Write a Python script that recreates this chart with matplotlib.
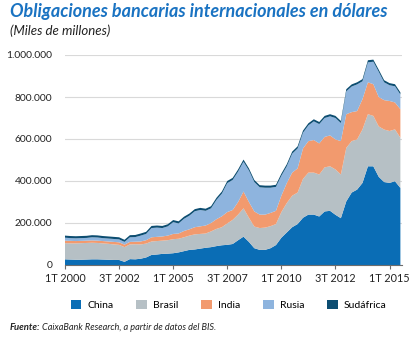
import matplotlib.pyplot as plt
from matplotlib.patches import Patch
from matplotlib.ticker import FuncFormatter

plt.rcParams['font.family'] = ['Lato', 'DejaVu Sans']

# quarters from 1T 2000 to 3T 2015, values in miles de millones (thousands)
quarters = list(range(63))
tick_pos = [0, 10, 20, 30, 40, 50, 60]
tick_labels = ['1T 2000', '3T 2002', '1T 2005', '3T 2007', '1T 2010', '3T 2012', '1T 2015']

# cumulative tops
top_china = [27, 26, 25, 25, 26, 27, 27, 26, 25, 24, 24, 15, 28, 27, 30, 36, 48, 50, 53, 54,
             56, 60, 66, 72, 74, 78, 82, 85, 90, 94, 96, 100, 118, 135, 110, 80, 72, 72, 80, 95,
             130, 155, 180, 195, 225, 240, 240, 231, 255, 258, 239, 223, 303, 345, 359, 391, 470, 470, 420, 395,
             391, 399, 367]
top_brasil = [104, 103, 103, 104, 105, 106, 105, 103, 101, 98, 96, 85, 98, 99, 98, 102, 112, 114, 116, 118,
              123, 125, 132, 140, 146, 148, 150, 160, 172, 180, 198, 215, 240, 270, 225, 183, 176, 178, 185, 195,
              252, 295, 330, 345, 410, 440, 440, 431, 465, 470, 455, 431, 558, 590, 598, 646, 718, 710, 660, 645,
              638, 646, 606]
top_india = [116, 115, 114, 115, 116, 117, 116, 114, 112, 110, 108, 97, 110, 111, 112, 118, 132, 134, 136, 140,
             148, 150, 162, 170, 180, 184, 188, 200, 218, 232, 252, 262, 300, 350, 300, 255, 240, 240, 248, 258,
             330, 390, 440, 460, 555, 590, 595, 579, 610, 617, 598, 590, 718, 728, 733, 790, 870, 861, 800, 785,
             781, 774, 742]
total = [140, 138, 137, 138, 139, 142, 141, 138, 136, 134, 132, 120, 142, 143, 150, 158, 186, 188, 186, 194,
         214, 208, 230, 245, 266, 272, 268, 280, 320, 350, 400, 415, 455, 502, 460, 405, 380, 378, 378, 382,
         435, 480, 540, 565, 640, 675, 694, 681, 710, 718, 710, 686, 837, 860, 870, 885, 975, 978, 930, 880,
         866, 861, 822]
sudafrica_size = 10

china = [c * 1000 for c in top_china]
brasil = [(b - c) * 1000 for b, c in zip(top_brasil, top_china)]
india = [(i - b) * 1000 for i, b in zip(top_india, top_brasil)]
rusia = [(t - sudafrica_size - i) * 1000 for t, i in zip(total, top_india)]
sudafrica = [sudafrica_size * 1000 for t in total]

series = ['China', 'Brasil', 'India', 'Rusia', 'Sudáfrica']
colors = ['#0a6db5', '#b6c0c5', '#f29a6e', '#8eb4de', '#0c4d71']

fig = plt.figure(figsize=(4.12, 3.38), dpi=100)
ax = fig.add_axes([65/412, 1-265/338, 337/412, 210/338])

ax.stackplot(quarters, china, brasil, india, rusia, sudafrica, colors=colors, linewidth=0)

ax.set_xlim(0, 62.3)
ax.set_ylim(0, 1000000)
ax.set_yticks(range(0, 1000001, 200000))
ax.yaxis.set_major_formatter(FuncFormatter(lambda v, p: f'{int(v):,}'.replace(',', '.')))
ax.set_xticks(tick_pos)
ax.set_xticklabels(tick_labels)
ax.grid(axis='y', color='#d9d9d9', linewidth=0.8)
ax.set_axisbelow(True)
for s in ['top', 'right', 'left']:
    ax.spines[s].set_visible(False)
ax.spines['bottom'].set_color('#6d6d6d')
ax.spines['bottom'].set_linewidth(0.8)
ax.tick_params(axis='y', length=0, labelsize=7.4, colors='#222222', pad=9)
ax.tick_params(axis='x', length=3, width=0.8, color='#6d6d6d', labelsize=7.8, colors='#222222', pad=3)

fig.text(10/412, 1-12/338, 'Obligaciones bancarias internacionales en dólares', fontsize=13,
         fontweight='bold', style='italic', color='#1a73c2', va='center')
fig.text(10/412, 1-31/338, '(Miles de millones)', fontsize=9.5, style='italic', color='#222222', va='center')

handles = [Patch(facecolor=c, edgecolor='none') for c in colors]
fig.legend(handles, series, loc='center', bbox_to_anchor=(0.555, 1-305/338), ncol=5, frameon=False,
           fontsize=7.5, handlelength=1.0, handleheight=1.0, columnspacing=2.2, handletextpad=0.6)

fig.text(10/412, 1-328/338, 'Fuente:', fontsize=6.8, fontweight='bold', style='italic', color='#222222', va='center')
fig.text(42/412, 1-328/338, 'CaixaBank Research, a partir de datos del BIS.', fontsize=6.6, style='italic',
         color='#222222', va='center')

fig.savefig('out.png', dpi=100)
